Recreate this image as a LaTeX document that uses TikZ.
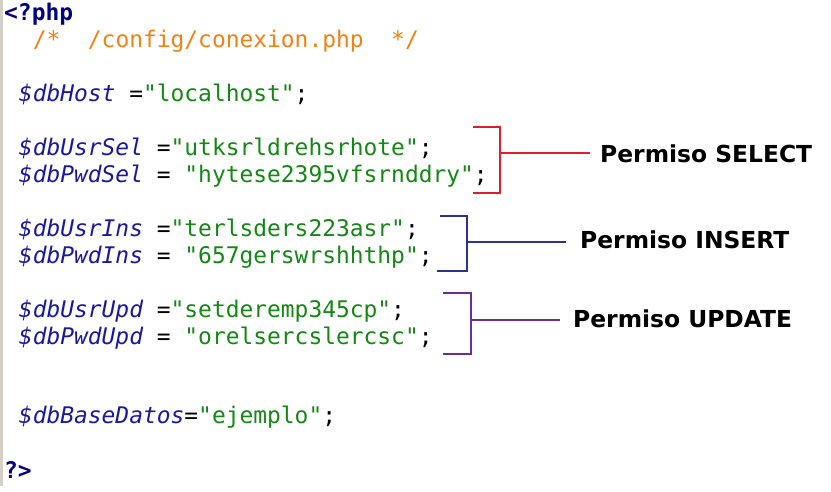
\documentclass[tikz,border=0pt]{standalone}
\usepackage{fontspec}
\setmonofont{DejaVu Sans Mono}
\setsansfont{DejaVu Sans}
\usetikzlibrary{calc}

\definecolor{phpnavy}{RGB}{0,0,128}
\definecolor{varblue}{RGB}{25,25,160}
\definecolor{strgreen}{RGB}{20,135,20}
\definecolor{cmtorange}{RGB}{240,130,20}
\definecolor{selred}{RGB}{225,30,45}
\definecolor{insblue}{RGB}{45,50,140}
\definecolor{updpurple}{RGB}{110,45,145}
\definecolor{edgegray}{RGB}{212,208,200}

\newcommand\codefont{\ttfamily\fontsize{22.9}{27}\selectfont}
\newcommand\phpvar[1]{\textcolor{varblue}{\itshape\$#1}}
\newcommand\phpstr[1]{\textcolor{strgreen}{"#1"}}

\begin{document}
\begin{tikzpicture}[x=1pt,y=-1pt,
    codeline/.style={anchor=base west, inner sep=0pt, font=\codefont},
    permlabel/.style={anchor=base west, inner sep=0pt,
      font=\sffamily\bfseries\fontsize{23.4}{28}\selectfont},
    bracket/.style={line width=1.8pt}]
  \useasboundingbox (0,0) rectangle (831,492);
  \fill[edgegray] (0,0) rectangle (2.5,486);

  % code lines
  \node[codeline, text=phpnavy] (open) at (4,21) {\bfseries <?php};
  \node[codeline, text=cmtorange] (cmt) at (32.6,48) {/*\ \ /config/conexion.php\ \ */};
  \node[codeline] (host) at (18.8,101.7) {\phpvar{dbHost} =\phpstr{localhost};};
  \node[codeline] (usrSel) at (18.8,155.5) {\phpvar{dbUsrSel} =\phpstr{utksrldrehsrhote};};
  \node[codeline] (pwdSel) at (18.8,182.4) {\phpvar{dbPwdSel} = \phpstr{hytese2395vfsrnddry};};
  \node[codeline] (usrIns) at (18.8,236.2) {\phpvar{dbUsrIns} =\phpstr{terlsders223asr};};
  \node[codeline] (pwdIns) at (18.8,263) {\phpvar{dbPwdIns} = \phpstr{657gerswrshhthp};};
  \node[codeline] (usrUpd) at (18.8,317.5) {\phpvar{dbUsrUpd} =\phpstr{setderemp345cp};};
  \node[codeline] (pwdUpd) at (18.8,344.5) {\phpvar{dbPwdUpd} = \phpstr{orelsercslercsc};};
  \node[codeline] (base) at (18.8,423.5) {\phpvar{dbBaseDatos}=\phpstr{ejemplo};};
  \node[codeline, text=phpnavy] (close) at (4,478.3) {\bfseries ?>};

  % labels
  \node[permlabel] (selLbl) at (600,163) {Permiso SELECT};
  \node[permlabel] (insLbl) at (580,248) {Permiso INSERT};
  \node[permlabel] (updLbl) at (573,327) {Permiso UPDATE};

  % brackets
  \coordinate (selTop) at (473,127);
  \coordinate (selBot) at (473,193);
  \coordinate (selMid) at (500,153);
  \coordinate (insTop) at (440,216);
  \coordinate (insBot) at (437,271);
  \coordinate (insMid) at (467,242);
  \coordinate (updTop) at (443,293);
  \coordinate (updBot) at (443,354);
  \coordinate (updMid) at (471,320);

  \draw[bracket, selred] (selTop) -- (selTop -| selMid) -- (selBot -| selMid) -- (selBot);
  \draw[bracket, selred, shorten >=10pt] (selMid) -- (selMid -| selLbl.west);
  \draw[bracket, insblue] (insTop) -- (insTop -| insMid) -- (insBot -| insMid) -- (insBot);
  \draw[bracket, insblue, shorten >=14pt] (insMid) -- (insMid -| insLbl.west);
  \draw[bracket, updpurple] (updTop) -- (updTop -| updMid) -- (updBot -| updMid) -- (updBot);
  \draw[bracket, updpurple, shorten >=13pt] (updMid) -- (updMid -| updLbl.west);
\end{tikzpicture}
\end{document}
